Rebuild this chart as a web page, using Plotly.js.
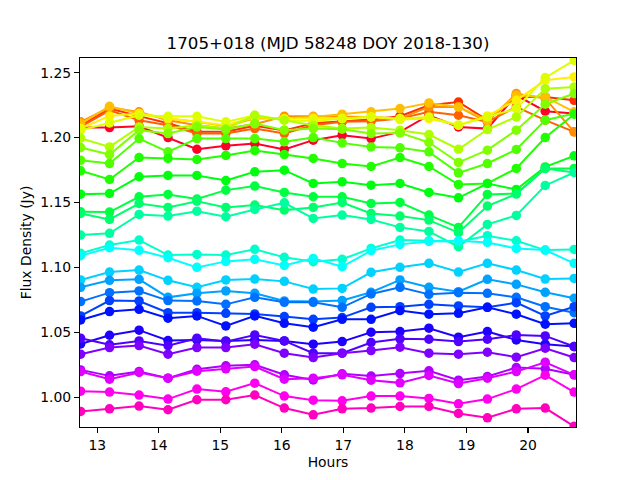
<!DOCTYPE html>
<html>
<head>
<meta charset="utf-8">
<script src="https://cdn.plot.ly/plotly-3.0.1.min.js"></script>
<style>body{margin:0;background:#fff}</style>
</head>
<body>
<div id="chart" style="width:640px;height:480px"></div>
<script>
const hours = [12.73,13.20,13.68,14.15,14.62,15.09,15.56,16.04,16.51,16.98,17.45,17.92,18.39,18.87,19.34,19.81,20.28,20.75];

// flux per channel, red end of the colormap first
const ch01 = [1.2077,1.2077,1.2087,1.2000,1.1910,1.1936,1.1954,1.1908,1.1980,1.2018,1.1992,1.2044,1.2172,1.2082,1.2069,1.2326,1.2203,1.2185];
const ch02 = [1.2090,1.2223,1.2165,1.2110,1.2045,1.2045,1.2090,1.2055,1.2110,1.2125,1.2140,1.2165,1.2249,1.2274,1.2134,1.2313,1.2313,1.2287];
const ch03 = [1.2082,1.2210,1.2133,1.2095,1.2031,1.2031,1.2069,1.2031,1.2095,1.2121,1.2126,1.2146,1.2198,1.2172,1.2121,1.2236,1.2134,1.2044];
const ch04 = [1.2121,1.2231,1.2198,1.2133,1.2095,1.2069,1.2103,1.2164,1.2164,1.2159,1.2159,1.2146,1.2236,1.2236,1.2121,1.2339,1.2300,1.2044];
const ch05 = [1.2108,1.2241,1.2185,1.2146,1.2121,1.2087,1.2146,1.2146,1.2159,1.2180,1.2198,1.2223,1.2267,1.2236,1.2134,1.2326,1.2313,1.2198];
const ch06 = [1.2069,1.2167,1.2185,1.2146,1.2121,1.2095,1.2159,1.2146,1.2146,1.2146,1.2159,1.2139,1.2146,1.2095,1.2167,1.2287,1.2441,1.2467];
const ch07 = [1.2057,1.2113,1.2172,1.2164,1.2164,1.2121,1.2172,1.2134,1.2128,1.2146,1.2159,1.2146,1.2159,1.2095,1.2159,1.2223,1.2462,1.2595];
const ch08 = [1.1995,1.1928,1.2082,1.2069,1.2095,1.2069,1.2172,1.2134,1.2095,1.2069,1.2077,1.2057,1.2023,1.1910,1.2062,1.2159,1.2377,1.2390];
const ch09 = [1.1923,1.1869,1.2057,1.2031,1.2082,1.2062,1.2108,1.2057,1.2069,1.2064,1.2031,1.2036,1.1962,1.1808,1.1903,1.2057,1.2257,1.2339];
const ch10 = [1.1826,1.1800,1.1992,1.1890,1.1992,1.1992,1.1992,1.1967,1.2000,1.1959,1.1928,1.1921,1.1890,1.1728,1.1800,1.1908,1.2134,1.2185];
const ch11 = [1.1744,1.1677,1.1846,1.1839,1.1831,1.1862,1.1900,1.1869,1.1839,1.1800,1.1777,1.1846,1.1777,1.1638,1.1646,1.1762,1.2000,1.2180];
const ch12 = [1.1564,1.1569,1.1698,1.1708,1.1708,1.1669,1.1736,1.1749,1.1646,1.1659,1.1633,1.1646,1.1577,1.1536,1.1646,1.1600,1.1774,1.1859];
const ch13 = [1.1428,1.1426,1.1544,1.1562,1.1526,1.1595,1.1626,1.1577,1.1544,1.1544,1.1492,1.1500,1.1403,1.1308,1.1562,1.1569,1.1762,1.1762];
const ch14 = [1.1415,1.1369,1.1492,1.1462,1.1510,1.1462,1.1480,1.1441,1.1462,1.1500,1.1415,1.1395,1.1364,1.1267,1.1472,1.1565,1.1762,1.1731];
const ch15 = [1.1249,1.1262,1.1408,1.1395,1.1433,1.1390,1.1446,1.1497,1.1377,1.1403,1.1369,1.1308,1.1277,1.1159,1.1331,1.1400,1.1631,1.1731];
const ch16 = [1.1108,1.1172,1.1210,1.1095,1.1100,1.1095,1.1139,1.1077,1.1044,1.1062,1.1146,1.1210,1.1205,1.1197,1.1244,1.1205,1.1133,1.1138];
const ch17 = [1.1090,1.1151,1.1131,1.1074,1.1000,1.1046,1.1062,1.1015,1.1069,1.1005,1.1128,1.1177,1.1200,1.1205,1.1192,1.1146,1.1133,1.1031];
const ch18 = [1.0903,1.0964,1.0979,1.0900,1.0846,1.0903,1.0910,1.0892,1.0833,1.0838,1.0962,1.1000,1.1031,1.0964,1.1031,1.0979,1.0910,1.0915];
const ch19 = [1.0846,1.0900,1.0908,1.0769,1.0800,1.0818,1.0800,1.0741,1.0736,1.0744,1.0808,1.0903,1.0846,1.0813,1.0908,1.0869,1.0808,1.0762];
const ch20 = [1.0736,1.0805,1.0818,1.0744,1.0741,1.0715,1.0769,1.0731,1.0731,1.0692,1.0795,1.0846,1.0792,1.0805,1.0800,1.0769,1.0697,1.0651];
const ch21 = [1.0626,1.0744,1.0741,1.0651,1.0651,1.0646,1.0641,1.0621,1.0600,1.0613,1.0692,1.0697,1.0715,1.0703,1.0692,1.0728,1.0626,1.0697];
const ch22 = [1.0595,1.0659,1.0677,1.0608,1.0626,1.0549,1.0626,1.0569,1.0539,1.0600,1.0600,1.0667,1.0639,1.0646,1.0692,1.0639,1.0562,1.0569];
const ch23 = [1.0410,1.0477,1.0516,1.0436,1.0441,1.0433,1.0441,1.0433,1.0408,1.0428,1.0500,1.0505,1.0531,1.0462,1.0505,1.0441,1.0408,1.0390];
const ch24 = [1.0454,1.0403,1.0433,1.0397,1.0454,1.0428,1.0479,1.0433,1.0339,1.0339,1.0421,1.0449,1.0446,1.0428,1.0446,1.0479,1.0472,1.0390];
const ch25 = [1.0331,1.0382,1.0397,1.0331,1.0382,1.0382,1.0408,1.0339,1.0305,1.0339,1.0359,1.0385,1.0339,1.0331,1.0346,1.0308,1.0377,1.0305];
const ch26 = [1.0210,1.0164,1.0197,1.0146,1.0215,1.0241,1.0249,1.0172,1.0133,1.0180,1.0162,1.0182,1.0203,1.0131,1.0159,1.0228,1.0218,1.0172];
const ch27 = [1.0197,1.0138,1.0190,1.0146,1.0200,1.0218,1.0236,1.0138,1.0146,1.0172,1.0131,1.0110,1.0167,1.0105,1.0146,1.0197,1.0269,1.0172];
const ch28 = [1.0046,1.0039,1.0016,0.9985,1.0062,1.0041,1.0108,1.0008,0.9977,0.9972,1.0008,1.0008,0.9990,0.9949,0.9985,1.0062,1.0169,1.0039];
const ch29 = [0.9890,0.9910,0.9931,0.9903,0.9980,0.9980,1.0016,0.9916,0.9864,0.9910,0.9916,0.9928,0.9928,0.9874,0.9841,0.9910,0.9916,0.9775];

const channels = [ch01,ch02,ch03,ch04,ch05,ch06,ch07,ch08,ch09,ch10,ch11,ch12,ch13,ch14,ch15,ch16,ch17,ch18,ch19,ch20,ch21,ch22,ch23,ch24,ch25,ch26,ch27,ch28,ch29];

// gist_rainbow stops
const stops = [0,0.03,0.215,0.4,0.586,0.77,0.954,1];
const stopR = [1,1,1,0,0,0,1,1];
const stopG = [0,0,1,1,1,0,0,0];
const stopB = [0.16,0,0,0,1,1,1,0.75];

function rainbow(t) {
  let k = 0;
  while (k < stops.length - 2 && t > stops[k+1]) k++;
  const f = (t - stops[k]) / (stops[k+1] - stops[k]);
  const mix = (a) => Math.round(255 * (a[k] + (a[k+1] - a[k]) * f));
  return 'rgb(' + mix(stopR) + ',' + mix(stopG) + ',' + mix(stopB) + ')';
}

const traces = channels.map((flux, i) => {
  // first channel keeps the pinkish red, the rest are spread over the remainder of the map
  const t = i === 0 ? 0 : 0.03 + 0.97 * i / (channels.length - 1);
  const c = rainbow(t);
  return {
    x: hours,
    y: flux,
    mode: 'lines+markers',
    line: {color: c, width: 2},
    marker: {color: c, size: 9.5},
    showlegend: false
  };
});

const layout = {
  width: 640,
  height: 480,
  margin: {l: 80, r: 64, t: 57.6, b: 52.8},
  paper_bgcolor: '#fff',
  plot_bgcolor: '#fff',
  font: {family: 'DejaVu Sans', size: 13.9, color: '#000'},
  title: {
    text: '1705+018 (MJD 58248 DOY 2018-130)',
    font: {family: 'DejaVu Sans', size: 16.67, color: '#000'},
    x: 0.5, xref: 'paper', xanchor: 'center',
    y: 0.897, yref: 'container', yanchor: 'bottom'
  },
  xaxis: {
    range: [12.72, 20.78],
    tickvals: [13,14,15,16,17,18,19,20],
    ticks: 'outside', ticklen: 4.9, tickwidth: 1.1, tickcolor: '#000',
    showgrid: false, zeroline: false,
    showline: true, mirror: true, linecolor: '#000', linewidth: 1.1,
    title: {text: 'Hours', standoff: 5, font: {family: 'DejaVu Sans', size: 13.9, color: '#000'}}
  },
  yaxis: {
    range: [0.977, 1.2613],
    tickvals: [1.00,1.05,1.10,1.15,1.20,1.25],
    tickformat: '.2f',
    ticks: 'outside', ticklen: 4.9, tickwidth: 1.1, tickcolor: '#000',
    showgrid: false, zeroline: false,
    showline: true, mirror: true, linecolor: '#000', linewidth: 1.1,
    title: {text: 'Flux Density (Jy)', standoff: 5, font: {family: 'DejaVu Sans', size: 13.9, color: '#000'}}
  }
};

Plotly.newPlot('chart', traces, layout, {displayModeBar: false, staticPlot: true});
</script>
</body>
</html>
